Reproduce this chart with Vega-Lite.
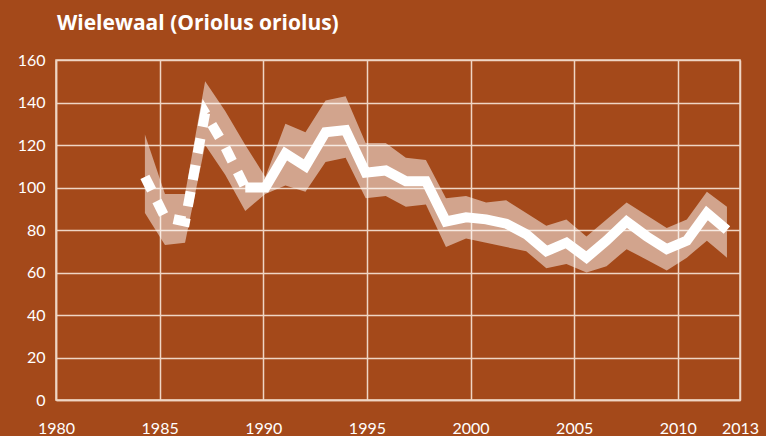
{
  "$schema": "https://vega.github.io/schema/vega-lite/v6.json",
  "width": 684,
  "height": 340,
  "autosize": {"type": "none"},
  "padding": {"left": 56, "top": 60, "right": 26, "bottom": 36},
  "background": "#A4491A",
  "title": {"text": "Wielewaal (Oriolus oriolus)", "anchor": "start", "frame": "group", "color": "#ffffff", "font": "Open Sans", "fontSize": 21, "fontWeight": "bold", "baseline": "alphabetic", "offset": 1, "dx": 1},
  "config": {
    "view": {"stroke": "#EFD5C4", "strokeWidth": 1.5},
    "axis": {"gridColor": "#EFD5C4", "gridWidth": 1.5, "gridOpacity": 1, "domainColor": "#EFD5C4", "domainWidth": 1.5, "ticks": false, "labelColor": "#ffffff", "labelFont": "Lato", "labelFontSize": 16}
  },
  "datasets": {
    "band": [
      {"year": 1984, "lower": 88, "upper": 125},
      {"year": 1985, "lower": 73, "upper": 97},
      {"year": 1986, "lower": 74, "upper": 97},
      {"year": 1987, "lower": 120, "upper": 150},
      {"year": 1988, "lower": 106, "upper": 136},
      {"year": 1989, "lower": 89, "upper": 120},
      {"year": 1990, "lower": 97, "upper": 105},
      {"year": 1991, "lower": 101, "upper": 130},
      {"year": 1992, "lower": 98, "upper": 126},
      {"year": 1993, "lower": 112, "upper": 141},
      {"year": 1994, "lower": 114, "upper": 143},
      {"year": 1995, "lower": 95, "upper": 121},
      {"year": 1996, "lower": 96, "upper": 121},
      {"year": 1997, "lower": 91, "upper": 114},
      {"year": 1998, "lower": 92, "upper": 113},
      {"year": 1999, "lower": 72, "upper": 95},
      {"year": 2000, "lower": 76, "upper": 96},
      {"year": 2001, "lower": 74, "upper": 93},
      {"year": 2002, "lower": 72, "upper": 94},
      {"year": 2003, "lower": 70, "upper": 88},
      {"year": 2004, "lower": 62, "upper": 82},
      {"year": 2005, "lower": 64, "upper": 85},
      {"year": 2006, "lower": 60, "upper": 77},
      {"year": 2007, "lower": 63, "upper": 85},
      {"year": 2008, "lower": 71, "upper": 93},
      {"year": 2009, "lower": 66, "upper": 87},
      {"year": 2010, "lower": 61, "upper": 81},
      {"year": 2011, "lower": 67, "upper": 85},
      {"year": 2012, "lower": 75, "upper": 98},
      {"year": 2013, "lower": 67, "upper": 91}
    ],
    "index": [
      {"year": 1984, "value": 105, "series": "dotted"},
      {"year": 1985, "value": 86, "series": "dotted"},
      {"year": 1986, "value": 84, "series": "dotted"},
      {"year": 1987, "value": 135, "series": "dotted"},
      {"year": 1988, "value": 119, "series": "dotted"},
      {"year": 1989, "value": 100, "series": "dotted"},
      {"year": 1989, "value": 100, "series": "solid"},
      {"year": 1990, "value": 100, "series": "solid"},
      {"year": 1991, "value": 116, "series": "solid"},
      {"year": 1992, "value": 110, "series": "solid"},
      {"year": 1993, "value": 126, "series": "solid"},
      {"year": 1994, "value": 127, "series": "solid"},
      {"year": 1995, "value": 107, "series": "solid"},
      {"year": 1996, "value": 108, "series": "solid"},
      {"year": 1997, "value": 103, "series": "solid"},
      {"year": 1998, "value": 103, "series": "solid"},
      {"year": 1999, "value": 84, "series": "solid"},
      {"year": 2000, "value": 86, "series": "solid"},
      {"year": 2001, "value": 85, "series": "solid"},
      {"year": 2002, "value": 83, "series": "solid"},
      {"year": 2003, "value": 78, "series": "solid"},
      {"year": 2004, "value": 70, "series": "solid"},
      {"year": 2005, "value": 74, "series": "solid"},
      {"year": 2006, "value": 67, "series": "solid"},
      {"year": 2007, "value": 75, "series": "solid"},
      {"year": 2008, "value": 84, "series": "solid"},
      {"year": 2009, "value": 77, "series": "solid"},
      {"year": 2010, "value": 71, "series": "solid"},
      {"year": 2011, "value": 75, "series": "solid"},
      {"year": 2012, "value": 88, "series": "solid"},
      {"year": 2013, "value": 80, "series": "solid"}
    ]
  },
  "layer": [
    {
      "data": {"name": "index"},
      "mark": {"type": "point", "opacity": 0},
      "encoding": {
        "x": {"field": "year", "type": "quantitative", "title": null,
              "scale": {"domain": [1980, 2013], "nice": false, "zero": false},
              "axis": {"orient": "bottom", "values": [1980, 1985, 1990, 1995, 2000, 2005, 2010, 2013], "format": "d", "grid": true, "labelFlush": false, "labelPadding": 20}},
        "y": {"field": "value", "type": "quantitative", "title": null,
              "scale": {"domain": [0, 160], "nice": false},
              "axis": {"values": [0, 20, 40, 60, 80, 100, 120, 140, 160], "grid": true, "labelPadding": 11}}
      }
    },
    {
      "data": {"name": "band"},
      "mark": {"type": "area", "color": "#ffffff", "opacity": 0.5},
      "encoding": {
        "x": {"field": "year", "type": "quantitative", "title": null, "scale": {"domain": [1979.57, 2013.65], "nice": false, "zero": false}, "axis": null},
        "y": {"field": "lower", "type": "quantitative", "title": null},
        "y2": {"field": "upper"}
      }
    },
    {
      "data": {"name": "index"},
      "transform": [{"filter": "datum.series === 'solid'"}],
      "mark": {"type": "line", "color": "#ffffff", "strokeWidth": 10, "strokeJoin": "miter", "strokeCap": "butt"},
      "encoding": {
        "x": {"field": "year", "type": "quantitative", "title": null, "scale": {"domain": [1979.57, 2013.65], "nice": false, "zero": false}, "axis": null},
        "y": {"field": "value", "type": "quantitative", "title": null}
      }
    },
    {
      "data": {"name": "index"},
      "transform": [{"filter": "datum.series === 'dotted'"}],
      "mark": {"type": "line", "color": "#ffffff", "strokeWidth": 10, "strokeJoin": "miter", "strokeCap": "butt", "strokeDash": [15, 12]},
      "encoding": {
        "x": {"field": "year", "type": "quantitative", "title": null, "scale": {"domain": [1979.57, 2013.65], "nice": false, "zero": false}, "axis": null},
        "y": {"field": "value", "type": "quantitative", "title": null}
      }
    }
  ],
  "resolve": {"scale": {"x": "independent"}, "axis": {"x": "independent"}}
}
